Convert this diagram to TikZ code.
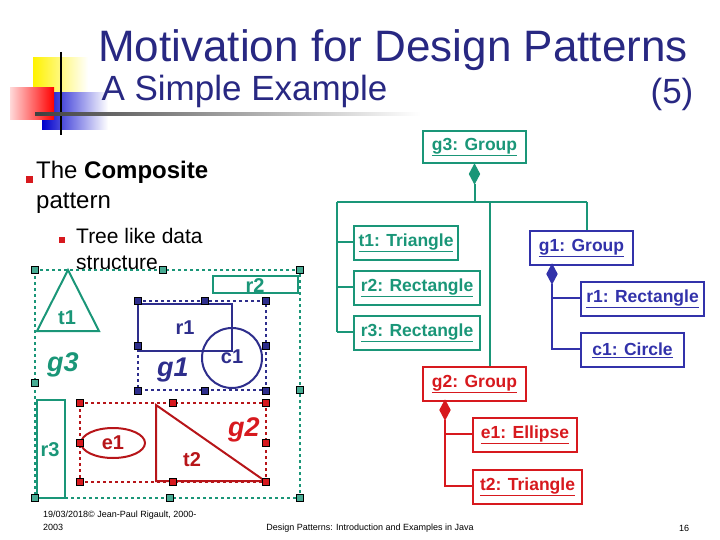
\documentclass[tikz,border=0pt]{standalone}
\usepackage{fontspec}
\setmainfont{Liberation Sans}
\usetikzlibrary{shapes.geometric}
\definecolor{teal}{RGB}{26,150,120}
\definecolor{navy}{RGB}{46,46,140}
\definecolor{bl}{RGB}{50,50,170}
\definecolor{rd}{RGB}{215,25,30}
\definecolor{titl}{RGB}{40,40,130}
\tikzset{
 obj/.style={draw,line width=2pt,minimum height=34pt,inner sep=1pt,font=\bfseries\fontsize{17.5}{18}\selectfont,anchor=north west},
 hnd/.style={draw=black,line width=0.4pt,minimum size=7pt,inner sep=0pt},
 dia/.style={diamond,draw,inner sep=0pt,minimum width=10pt,minimum height=18pt},
 lbl/.style={font=\bfseries\fontsize{20}{20}\selectfont},
 glbl/.style={font=\bfseries\itshape\fontsize{27}{27}\selectfont},
 ln/.style={line width=2pt},
}
\newcommand{\ul}[1]{\underline{#1}}
\begin{document}
\begin{tikzpicture}[x=1pt,y=-1pt]
\useasboundingbox (0,0) rectangle (720,540);
% logo
\shade[left color=yellow!90!orange,right color=white] (33,58) rectangle (88,98);
\shade[left color=blue!80!black,right color=white] (42,93) rectangle (108,130);
\shade[left color=red!15,right color=red] (10,88) rectangle (54,120);
\draw[line width=1.5pt] (61,52) -- (61,135);
\shade[left color=black!75,right color=white] (35,113) rectangle (420,116);
% titles
\node[titl,font=\fontsize{44}{44}\selectfont] (title) at (393,50) {Motivation for Design Patterns};
\node[titl,font=\fontsize{35}{35}\selectfont,anchor=west] (sub) at (98,91) {A Simple Example};
\node[titl,font=\fontsize{35}{35}\selectfont] (num) at (672,94) {(5)};
% bullets
\fill[rd] (26,176) rectangle (33,183);
\node[anchor=north west,align=left,font=\fontsize{24}{30}\selectfont,inner sep=0] (b1) at (36,161) {The \textbf{Composite}\\pattern};
\fill[rd] (59,237) rectangle (65,243);
\node[anchor=north west,align=left,font=\fontsize{21}{26}\selectfont,inner sep=0] (b2) at (76,228) {Tree like data\\structure};
% left drawing: g3
\begin{scope}[teal,ln]
\draw[dashed] (35,270) rectangle (300,498);
\draw (213,276) rectangle (298,293);
\node[lbl] at (255,286) {r2};
\draw (68,270) -- (37,331) -- (99,331) -- cycle;
\node[lbl] at (67,318) {t1};
\draw (37,400) rectangle (65,498);
\node[lbl] at (50,450) {r3};
\node[glbl] at (63,365) {g3};
\foreach \p in {(35,270),(163,270),(300,270),(35,383),(300,390),(35,498),(170,498),(300,498)}
  \node[hnd,fill=teal!80] at \p {};
\end{scope}
% g1
\begin{scope}[navy,ln]
\draw[dashed] (138,301) rectangle (266,390);
\draw (138,304) rectangle (232,351);
\node[lbl] at (185,328) {r1};
\draw (232,358) circle (30);
\node[lbl] at (232,357) {c1};
\node[glbl] at (173,370) {g1};
\foreach \p in {(138,301),(205,301),(266,301),(138,346),(266,346),(138,391),(205,391),(266,391)}
  \node[hnd,fill=navy] at \p {};
\end{scope}
% g2
\begin{scope}[rd!85!black,ln]
\draw[dashed] (80,403) rectangle (266,482);
\draw (113,443) ellipse (32 and 15);
\node[lbl] at (113,443) {e1};
\draw (156,405) -- (156,481) -- (265,481) -- cycle;
\node[lbl] at (192,460) {t2};
\node[glbl,rd] at (244,430) {g2};
\foreach \p in {(80,403),(173,403),(266,403),(80,443),(266,443),(80,482),(173,482),(266,482)}
  \node[hnd,fill=rd] at \p {};
\end{scope}
% UML
\begin{scope}[teal,ln]
\node[obj,minimum width=103pt,minimum height=32pt] (g3) at (422,130) {\ul{g3: Group}};
\node[obj,minimum width=104pt] (t1) at (353,225) {\ul{t1: Triangle}};
\node[obj,minimum width=126pt] (r2) at (353,270) {\ul{r2: Rectangle}};
\node[obj,minimum width=126pt] (r3) at (353,315) {\ul{r3: Rectangle}};
\node[dia,fill=teal,anchor=north] (d3) at (g3.south) {};
\coordinate (j3) at (473,202);
\draw (d3.south) -- (d3.south|-j3);
\draw (337,202) -- (587,202);
\draw (337,202) -- (337,332);
\draw (337,242) -- (353,242);
\draw (337,287) -- (353,287);
\draw (337,332) -- (353,332);
\end{scope}
\node[obj,bl,minimum width=103pt] (g1) at (529,230) {\ul{g1: Group}};
\node[obj,rd,minimum width=103pt] (g2) at (422,366) {\ul{g2: Group}};
\draw[teal,ln] (587,202) -- (587,230);
\draw[teal,ln] (490,202) -- (490,366);
\begin{scope}[bl,ln]
\node[obj,minimum width=123pt] (r1) at (580,281) {\ul{r1: Rectangle}};
\node[obj,minimum width=103pt] (c1) at (580,332) {\ul{c1: Circle}};
\node[dia,fill=bl,anchor=north] (d1) at (552,264) {};
\draw (d1.south) -- (552,349) -- (580,349);
\draw (552,298) -- (580,298);
\end{scope}
\begin{scope}[rd,ln]
\node[obj,minimum width=104pt] (e1) at (472,417) {\ul{e1: Ellipse}};
\node[obj,minimum width=109pt] (t2) at (472,469) {\ul{t2: Triangle}};
\node[dia,fill=rd,anchor=north] (d2) at (445,400) {};
\draw (d2.south) -- (445,486) -- (472,486);
\draw (445,434) -- (472,434);
\end{scope}
% footer
\node[anchor=north west,align=left,font=\fontsize{9}{13}\selectfont,inner sep=0] (f1) at (43,511) {19/03/2018© Jean-Paul Rigault, 2000-\\2003};
\node[font=\fontsize{9}{9}\selectfont] (f2) at (370,528) {Design Patterns: Introduction and Examples in Java};
\node[font=\fontsize{9}{9}\selectfont] (f3) at (684,528) {16};
\end{tikzpicture}
\end{document}
